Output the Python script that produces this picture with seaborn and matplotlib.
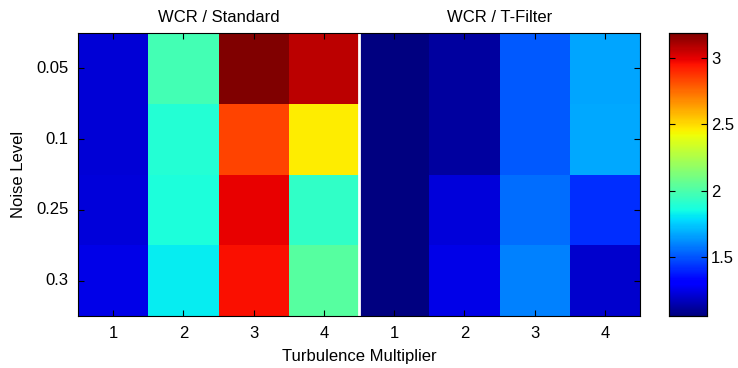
import numpy as np
import pandas as pd
import matplotlib
matplotlib.use("Agg")
import matplotlib.pyplot as plt
import seaborn as sns

# Data
noise_levels = ["0.05", "0.1", "0.25", "0.3"]
turbulence = ["1", "2", "3", "4"]
groups = ["WCR / Standard", "WCR / T-Filter"]

# rows = noise levels, columns = turbulence multiplier 1..4
wcr_standard = [
    [1.22, 1.98, 3.19, 3.08],
    [1.22, 1.89, 2.84, 2.46],
    [1.23, 1.88, 2.99, 1.93],
    [1.25, 1.82, 2.96, 2.03],
]
wcr_tfilter = [
    [1.06, 1.115, 1.51, 1.67],
    [1.06, 1.12, 1.51, 1.68],
    [1.055, 1.225, 1.55, 1.42],
    [1.055, 1.25, 1.59, 1.20],
]

plt.rcParams["font.family"] = ["Liberation Sans", "DejaVu Sans"]
plt.rcParams["font.size"] = 12

values = np.hstack([np.array(wcr_standard), np.array(wcr_tfilter)])
df = pd.DataFrame(values, index=noise_levels, columns=turbulence + turbulence)

fig = plt.figure(figsize=(7.38, 3.68), dpi=100)
W, H = 738, 368
ax = fig.add_axes([78 / W, (H - 316) / H, 562 / W, 283 / H])
cax = fig.add_axes([669 / W, (H - 316) / H, 38 / W, 283 / H])

sns.heatmap(df, cmap="jet", ax=ax, cbar_ax=cax, linewidths=0)

# white divider between the two groups
ax.axvline(4, color="white", lw=2)

for s in ax.spines.values():
    s.set_visible(True)
    s.set_color("black")
    s.set_linewidth(0.8)

ax.set_yticklabels(noise_levels, rotation=0, fontsize=12)
ax.set_xticklabels(turbulence + turbulence, rotation=0, fontsize=12)
ax.tick_params(direction="in", length=4, width=0.8, top=True, right=True,
               labeltop=False, labelright=False, pad=7, colors="black")
ax.set_xlabel("Turbulence Multiplier", labelpad=6, fontsize=12)
ax.set_ylabel("Noise Level", labelpad=7, fontsize=12)

for i, g in enumerate(groups):
    ax.text(2 + 4 * i, -0.12, g, ha="center", va="bottom", fontsize=12)

cax.set_yticks([1.5, 2, 2.5, 3])
cax.set_yticklabels(["1.5", "2", "2.5", "3"], fontsize=12)
cax.tick_params(direction="in", length=4, width=0.8, left=True, right=True, pad=3)
for s in cax.spines.values():
    s.set_visible(True)
    s.set_color("black")
    s.set_linewidth(0.8)

fig.savefig("out.png", dpi=100)
